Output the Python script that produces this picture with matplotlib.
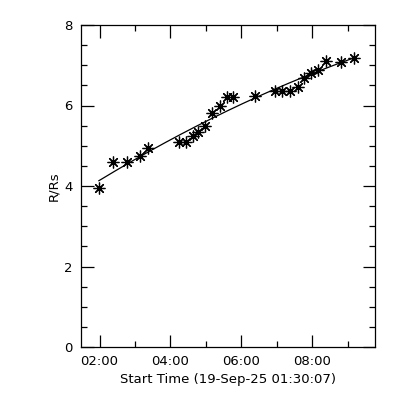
import numpy as np
import matplotlib
matplotlib.use("Agg")
import matplotlib.pyplot as plt
from matplotlib.ticker import MultipleLocator, FuncFormatter

# time in hours after midnight (19-Sep-25)
t_hours = [1.98, 2.375, 2.76, 3.15, 3.36, 4.25, 4.45, 4.63, 4.78, 4.97,
           5.17, 5.39, 5.60, 5.77, 6.39, 6.96, 7.15, 7.38, 7.59, 7.78,
           7.97, 8.16, 8.39, 8.81, 9.19]
r_rs = [3.94, 4.59, 4.59, 4.75, 4.94, 5.09, 5.10, 5.24, 5.33, 5.49,
        5.82, 5.99, 6.22, 6.22, 6.24, 6.36, 6.37, 6.37, 6.45, 6.69,
        6.80, 6.88, 7.11, 7.09, 7.17]
x_range = [1.47, 9.77]
y_range = [0, 8]
x_label = "Start Time (19-Sep-25 01:30:07)"
y_label = "R/Rs"

t = np.array(t_hours)
r = np.array(r_rs)
coef = np.polyfit(t, r, 2)
tf = np.linspace(t.min(), t.max(), 200)
rf = np.polyval(coef, tf)

fig = plt.figure(figsize=(4, 4), dpi=100)
ax = fig.add_axes([0.202, 0.1325, 0.7355, 0.805])
ax.plot(tf, rf, color="black", lw=0.9)
ax.plot(t, r, linestyle="none", marker=(8, 2, 0), markersize=8.5,
        color="black", markeredgewidth=0.9)

ax.set_xlim(*x_range)
ax.set_ylim(*y_range)
ax.xaxis.set_major_locator(MultipleLocator(2))
ax.xaxis.set_minor_locator(MultipleLocator(1))
ax.yaxis.set_major_locator(MultipleLocator(2))
ax.yaxis.set_minor_locator(MultipleLocator(0.5))
ax.xaxis.set_major_formatter(FuncFormatter(lambda v, p: "%02d:00" % int(round(v))))
ax.yaxis.set_major_formatter(FuncFormatter(lambda v, p: "%d" % int(round(v))))
ax.tick_params(which="both", direction="in", top=True, right=True,
               width=0.9, labelsize=9.5, colors="black")
ax.tick_params(which="major", length=9, pad=6)
ax.tick_params(which="minor", length=4.5)
for s in ax.spines.values():
    s.set_linewidth(0.9)
ax.set_xlabel(x_label, fontsize=9.5, labelpad=3)
ax.set_ylabel(y_label, fontsize=9.5, labelpad=3)

fig.savefig("out.png", dpi=100)
